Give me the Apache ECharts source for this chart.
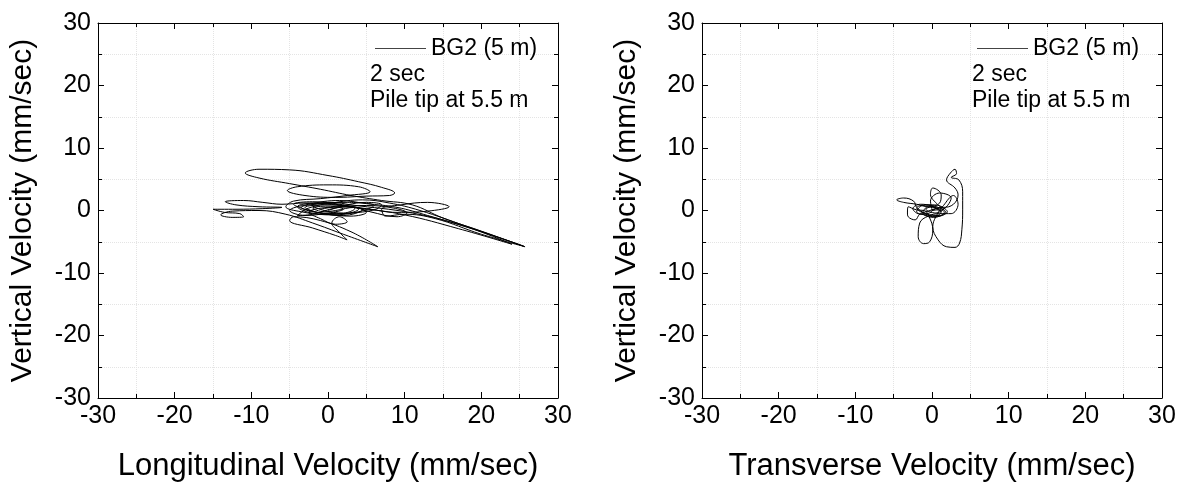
<!DOCTYPE html>
<html>
<head>
<meta charset="utf-8">
<script src="https://cdn.jsdelivr.net/npm/echarts@6/dist/echarts.min.js"></script>
<style>
html, body { margin: 0; padding: 0; background: #fff; }
#chart { width: 1187px; height: 483px; }
</style>
</head>
<body>
<div id="chart"></div>
<script>
// Left plot: longitudinal vs vertical velocity (mm/sec)
var longVel = [0.0, 2.5, 5.0, 7.0, 6.0, 3.0, -0.5, -3.5, -5.5, -4.5, -1.0, 2.5, 5.5, 4.0, 0.0, -4.0, -5.3, -3.0, 1.0, 5.0,
  8.0, 8.7, 7.0, 4.0, 0.0, -5.0, -9.0, -10.8, -9.0, -5.0, -1.0, 3.0, 7.0, 11.0, 15.0, 20.0, 25.7, 20.0, 14.0, 10.0,
  7.5, 7.0, 9.5, 13.0, 15.8, 13.0, 9.0, 5.0, 1.0, -3.0, -6.0, -8.5, -11.0, -13.4, -12.0, -9.0, -6.0, -8.5, -12.0, -15.0,
  -13.5, -11.5, -11.0, -12.5, -14.0, -12.5, -9.0, -5.5, -2.0, 2.0, 6.5, 3.0, -1.0, -4.5, -5.0, -2.0, 1.0, 2.5, 1.5, 0.5,
  1.5, 2.5, 1.0, -1.0, -2.5, 0.0, 3.0, 5.5, 9.0, 10.3, 8.5, 5.0, 1.0, -2.0, -4.0, -2.5, 0.5, 4.5, 8.0, 12.0,
  18.0, 25.5, 19.0, 13.0, 9.0, 5.0, 1.5, -2.5, -5.0, -3.0, 0.0, 2.0, 0.0, -2.0, -0.5, 1.0,
  3.5, 5.0, 3.0, 0.0, -3.0, -4.5, -2.0, 1.5, 4.0, 2.0, -1.5, -3.5, -1.0, 2.5, 6.0, 4.0, 0.5, -2.5, -4.0, -1.5,
  1.0, 3.5, 2.0, -0.5, -2.0, 0.5, 3.0, 11.0, 18.0, 24.0, 17.0, 10.0, 4.0, 0.0, -3.0, -1.0, 2.0, 4.5, 1.5, -1.0];
var longVert = [0.0, 0.9, 1.3, 0.9, 0.1, -0.4, -0.6, -0.2, 0.6, 1.5, 1.9, 2.4, 3.0, 3.8, 4.1, 3.8, 3.2, 2.4, 2.1, 2.3,
  2.4, 2.8, 3.7, 4.6, 5.6, 6.5, 6.6, 6.0, 5.2, 4.3, 3.4, 2.4, 1.6, 0.9, -1.2, -3.3, -5.8, -3.8, -1.3, -0.6,
  -0.9, 0.2, 0.9, 1.3, 0.6, -0.1, -0.3, 0.3, 0.9, 1.2, 1.0, 1.3, 1.6, 1.4, 0.9, 0.6, 0.5, 0.3, 0.2, 0.2,
  -0.3, -0.5, -1.0, -1.1, -0.7, -0.1, 0.0, -0.6, -2.0, -3.8, -5.8, -3.4, -1.6, -1.0, -1.6, -2.8, -4.0, -4.7, -3.5, -2.0,
  -1.0, -1.8, -2.2, -1.3, -0.3, 0.5, 0.6, -0.2, -1.0, -0.4, 0.4, 0.8, 0.4, -0.6, -0.8, 0.4, 1.2, 1.7, 1.2, 0.0,
  -2.5, -5.7, -3.0, -0.8, 0.5, 1.1, 1.6, 1.0, 0.0, -0.8, -0.4, 0.2, 0.7, 0.4, -0.2, 0.0,
  0.5, -0.3, -0.9, -0.6, 0.2, 1.0, 1.4, 1.0, 0.2, -0.5, -0.3, 0.5, 1.1, 1.3, 0.8, -0.2, -0.7, -0.3, 0.6, 1.2,
  1.0, 0.3, -0.4, 0.0, 0.8, 1.3, 0.9, -0.4, -2.6, -5.4, -2.9, -0.7, 0.4, 0.9, 0.5, -0.4, -0.8, 0.1, 0.6, 0.2];

// Right plot: transverse vs vertical velocity (mm/sec)
var transVel = [0.0, 1.2, 2.0, 1.0, -0.8, -2.0, -2.4, -3.7, -4.6, -3.7, -2.0, -0.5, 1.0, 1.2, 0.1, -0.2, 0.3, 1.5, 2.8, 3.4,
  3.0, 1.9, 2.4, 3.0, 3.2, 2.5, 3.5, 4.0, 4.0, 3.9, 3.6, 3.0, 1.9, 0.8, 0.1, 0.5, 1.5, 2.8, 3.4, 2.5,
  1.0, -0.5, -1.6, -1.8, -1.1, -0.3, 0.1, -0.3, -1.0, -2.0, -3.1, -3.2, -3.1, -2.2, -1.6, -0.5, 1.0, 1.8, 0.5, -1.0,
  -2.0, -1.2, 0.3, 1.5, 0.5, -0.8, 0.0, 1.0, 2.5, 1.0, -0.2, 0.0,
  -1.5, -2.5, -1.5, 0.0, 1.2, 0.5, -1.0, -2.0, -0.8, 0.8, 1.6, 0.2, -1.2, -0.5, 0.9, 0.0];
var transVert = [0.0, 0.5, -0.2, -0.8, -0.5, 0.5, 1.5, 2.0, 1.7, 1.3, 1.0, 0.6, 1.2, 2.5, 3.6, 2.6, 1.5, 0.5, 1.0, 2.5,
  3.6, 4.9, 6.0, 6.6, 5.9, 5.3, 4.9, 3.0, 0.1, -3.0, -5.2, -5.9, -5.8, -4.7, -2.6, -1.0, 0.8, 2.4, 1.0, -0.5,
  -0.5, -0.9, -2.0, -4.2, -5.3, -5.0, -3.1, -1.2, 0.0, 0.1, 0.6, -0.4, -1.0, -1.5, -0.6, -0.1, 0.4, -0.3, -1.0, -0.7,
  -0.2, 0.8, 0.9, 0.3, -0.4, 0.2, 0.6, 0.0, 2.0, 2.8, 1.5, 0.0,
  -0.6, 0.3, 1.0, 0.7, -0.2, -0.9, -0.5, 0.4, 0.9, 0.5, -0.3, -1.1, -0.4, 0.6, 0.2, 0.0];

var axisTicks = [-30, -20, -10, 0, 10, 20, 30];
var seriesName = 'BG2 (5 m)';
var noteLines = ['2 sec', 'Pile tip at 5.5 m'];

function pairs(xs, ys) {
  return xs.map(function (x, i) { return [x, ys[i]]; });
}

var font = 'Liberation Sans, Arial, sans-serif';

function axis(dim, grid, pos, name, labels) {
  var a = {
    type: 'value',
    gridIndex: grid,
    position: pos,
    min: axisTicks[0],
    max: axisTicks[axisTicks.length - 1],
    interval: 10,
    axisLine: { show: true, onZero: false, lineStyle: { color: '#000', width: 1 } },
    axisTick: { show: true, inside: true, length: 6, lineStyle: { color: '#000' } },
    minorTick: { show: true, splitNumber: 2, length: 4, lineStyle: { color: '#000' } },
    splitLine: { show: false },
    minorSplitLine: { show: labels, lineStyle: { color: '#e4e4e4', type: 'dotted' } },
    axisLabel: { show: labels, color: '#000', fontSize: 25, fontFamily: font, margin: dim === 'x' ? 6 : 7 }
  };
  if (name) {
    a.name = name;
    a.nameLocation = 'middle';
    a.nameGap = dim === 'x' ? 53 : 60;
    a.nameTextStyle = { color: '#000', fontSize: dim === 'x' ? 31 : 30, fontFamily: font };
  }
  return a;
}

function legendAt(left) {
  return {
    left: left, top: 32, itemWidth: 51, itemHeight: 1, itemGap: 7,
    data: [{ name: seriesName, icon: 'rect', itemStyle: { color: '#444' } }],
    textStyle: { color: '#000', fontSize: 23, fontFamily: font }
  };
}

function notesAt(left) {
  return { type: 'text', left: left, top: 62,
    style: { text: noteLines.join('\n'), fill: '#000', font: '23px ' + font, lineHeight: 26 } };
}

var chart = echarts.init(document.getElementById('chart'));
chart.setOption({
  animation: false,
  backgroundColor: '#fff',
  grid: [
    { left: 98, right: 629, top: 23, bottom: 85, outerBoundsMode: 'none' },
    { left: 702, right: 25, top: 23, bottom: 85, outerBoundsMode: 'none' }
  ],
  xAxis: [
    axis('x', 0, 'bottom', 'Longitudinal Velocity (mm/sec)', true),
    axis('x', 0, 'top', null, false),
    axis('x', 1, 'bottom', 'Transverse Velocity (mm/sec)', true),
    axis('x', 1, 'top', null, false)
  ],
  yAxis: [
    axis('y', 0, 'left', 'Vertical Velocity (mm/sec)', true),
    axis('y', 0, 'right', null, false),
    axis('y', 1, 'left', 'Vertical Velocity (mm/sec)', true),
    axis('y', 1, 'right', null, false)
  ],
  legend: [legendAt(370), legendAt(972)],
  graphic: [notesAt(370), notesAt(972)],
  series: [
    { name: seriesName, type: 'line', xAxisIndex: 0, yAxisIndex: 0, data: pairs(longVel, longVert),
      symbol: 'none', smooth: 0.4, lineStyle: { color: '#000', width: 1 } },
    { name: seriesName, type: 'line', xAxisIndex: 2, yAxisIndex: 2, data: pairs(transVel, transVert),
      symbol: 'none', smooth: 0.4, lineStyle: { color: '#000', width: 1 } }
  ]
});
</script>
</body>
</html>
